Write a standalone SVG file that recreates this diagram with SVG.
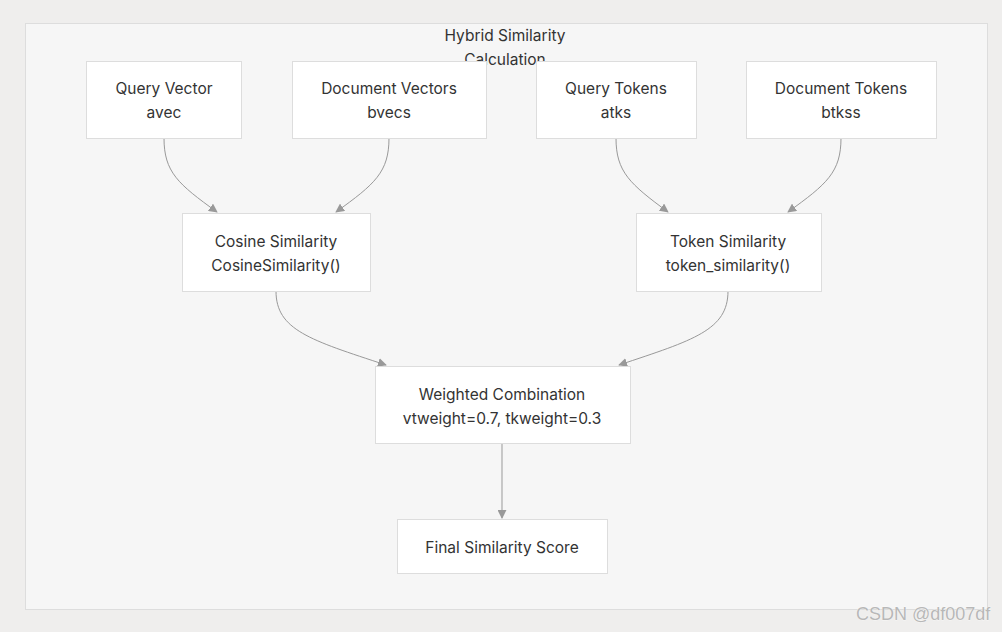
<svg xmlns="http://www.w3.org/2000/svg" width="1002" height="632" viewBox="0 0 1002 632">
<defs>
<style>
.node rect{fill:#ffffff;stroke:#dddddd;stroke-width:1}
.node text,.title{font-family:"Inter","Liberation Sans",sans-serif;font-size:15.5px;fill:#333333;text-anchor:middle}
.edge{fill:none;stroke:#999999;stroke-width:1}
.wm{font-family:"Liberation Sans",Arial,sans-serif;font-size:18px;fill:#b8b8b8;stroke:#ffffff;stroke-width:0.5;paint-order:stroke}
</style>
<marker id="arr" viewBox="0 0 10 10" refX="9" refY="5" markerWidth="9" markerHeight="9" markerUnits="userSpaceOnUse" orient="auto">
<path d="M0,0 L10,5 L0,10 z" fill="#999999"/>
</marker>
</defs>
<rect x="0" y="0" width="1002" height="632" fill="#efeeed"/>
<g id="cluster">
<rect x="25.5" y="23.5" width="962" height="586" fill="#f6f6f6" stroke="#dddddd"/>
<text class="title" x="505" y="41">Hybrid Similarity</text>
<text class="title" x="505" y="65">Calculation</text>
</g>
<g id="edges">
<path class="edge" d="M164,138 C164,172 178,184 217,212" marker-end="url(#arr)"/>
<path class="edge" d="M389,138 C389,172 375,184 336,212" marker-end="url(#arr)"/>
<path class="edge" d="M616,138 C616,172 630,184 668,212" marker-end="url(#arr)"/>
<path class="edge" d="M841,138 C841,172 827,184 788,212" marker-end="url(#arr)"/>
<path class="edge" d="M276,291 C276,330 310,340 386,365" marker-end="url(#arr)"/>
<path class="edge" d="M728,291 C728,330 694,340 619,365" marker-end="url(#arr)"/>
<path class="edge" d="M502,443 L502,518" marker-end="url(#arr)"/>
</g>
<g id="query_vector" class="node">
<rect x="86.5" y="61.5" width="155" height="77"/>
<text x="164" y="94">Query Vector</text>
<text x="164" y="118">avec</text>
</g>
<g id="document_vectors" class="node">
<rect x="292.5" y="61.5" width="194" height="77"/>
<text x="389" y="94">Document Vectors</text>
<text x="389" y="118">bvecs</text>
</g>
<g id="query_tokens" class="node">
<rect x="536.5" y="61.5" width="160" height="77"/>
<text x="616" y="94">Query Tokens</text>
<text x="616" y="118">atks</text>
</g>
<g id="document_tokens" class="node">
<rect x="746.5" y="61.5" width="190" height="77"/>
<text x="841" y="94">Document Tokens</text>
<text x="841" y="118">btkss</text>
</g>
<g id="cosine_similarity" class="node">
<rect x="182.5" y="213.5" width="188" height="78"/>
<text x="276" y="247">Cosine Similarity</text>
<text x="276" y="271">CosineSimilarity()</text>
</g>
<g id="token_similarity" class="node">
<rect x="636.5" y="213.5" width="185" height="78"/>
<text x="728" y="247">Token Similarity</text>
<text x="728" y="271">token_similarity()</text>
</g>
<g id="weighted_combination" class="node">
<rect x="375.5" y="366.5" width="255" height="77"/>
<text x="502" y="400">Weighted Combination</text>
<text x="502" y="424">vtweight=0.7, tkweight=0.3</text>
</g>
<g id="final_score" class="node">
<rect x="397.5" y="519.5" width="210" height="54"/>
<text x="502" y="553">Final Similarity Score</text>
</g>
<text class="wm" x="856" y="620">CSDN @df007df</text>
</svg>
